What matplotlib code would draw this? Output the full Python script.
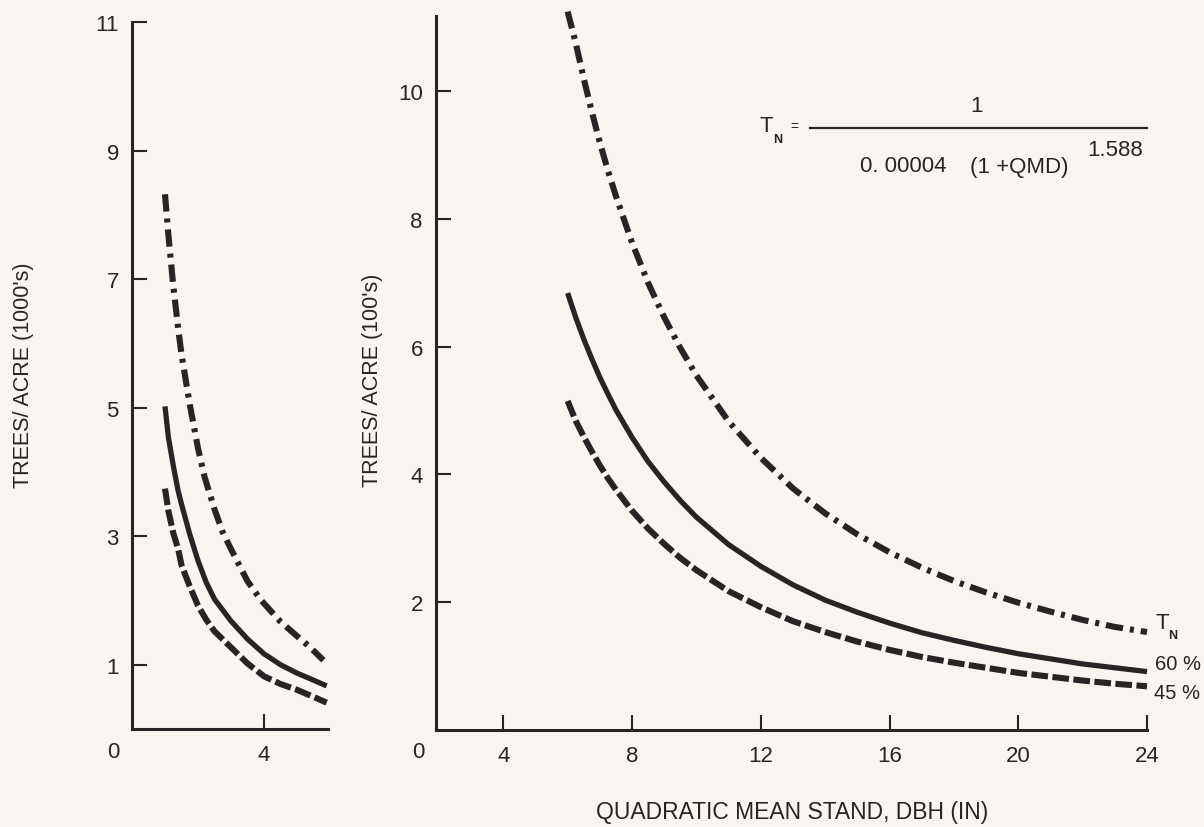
import matplotlib
matplotlib.use("Agg")
import matplotlib.pyplot as plt
from matplotlib import font_manager as fm
from matplotlib.lines import Line2D

# ---------------- data ----------------
# Left panel: trees/acre in 1000's, QMD 0-6 in
left_x_tn = [1.0, 1.1, 1.25, 1.4, 1.5, 1.75, 2.0, 2.2, 2.5, 2.75, 3.0, 3.5, 3.9, 4.5, 4.9, 5.4, 5.8]
left_tn = [8.32, 7.70, 6.90, 6.23, 5.83, 5.05, 4.37, 3.92, 3.42, 3.06, 2.80, 2.30, 2.01, 1.67, 1.49, 1.27, 1.07]
left_x_pct = [1.0, 1.1, 1.25, 1.4, 1.5, 1.75, 2.0, 2.25, 2.5, 3.0, 3.5, 4.0, 4.5, 5.0, 5.5, 5.9]
left_60 = [5.02, 4.55, 4.10, 3.70, 3.50, 3.03, 2.62, 2.28, 2.02, 1.68, 1.40, 1.17, 1.00, 0.87, 0.76, 0.67]
left_45 = [3.74, 3.40, 3.05, 2.80, 2.55, 2.22, 1.92, 1.70, 1.52, 1.27, 1.02, 0.82, 0.70, 0.61, 0.50, 0.41]

# Right panel: trees/acre in 100's, QMD 2-24 in
right_x = [6, 6.25, 6.5, 6.75, 7, 7.25, 7.5, 8, 8.5, 9, 9.5, 10, 11, 12, 13, 14,
           15, 16, 17, 18, 19, 20, 21, 22, 23, 24]
right_tn = [11.25, 10.76, 10.20, 9.68, 9.20, 8.76, 8.36, 7.63, 7.00, 6.46, 5.98, 5.55, 4.83, 4.26, 3.78, 3.39,
            3.06, 2.78, 2.54, 2.33, 2.15, 1.99, 1.85, 1.72, 1.61, 1.53]
right_60 = [6.84, 6.46, 6.12, 5.81, 5.52, 5.26, 5.01, 4.58, 4.20, 3.88, 3.59, 3.33, 2.90, 2.56, 2.27, 2.03,
            1.84, 1.67, 1.52, 1.40, 1.29, 1.19, 1.11, 1.03, 0.97, 0.91]
right_45 = [5.15, 4.84, 4.59, 4.36, 4.14, 3.94, 3.76, 3.43, 3.15, 2.91, 2.69, 2.50, 2.17, 1.92, 1.70, 1.53,
            1.38, 1.25, 1.14, 1.05, 0.97, 0.89, 0.83, 0.77, 0.72, 0.68]

left_yticks = [1, 3, 5, 7, 9, 11]
left_xticks = [4]
right_yticks = [2, 4, 6, 8, 10]
right_xticks = [4, 8, 12, 16, 20, 24]

curve_labels = ["60 %", "45 %"]
x_label = "QUADRATIC MEAN STAND, DBH (IN)"
left_ylabel = "TREES/ ACRE (1000's)"
right_ylabel = "TREES/ ACRE (100's)"

# ---------------- style ----------------
names = {f.name for f in fm.fontManager.ttflist}
FONT = next((n for n in ["Liberation Sans", "Arial", "Roboto"] if n in names), "DejaVu Sans")
plt.rcParams["font.family"] = [FONT, "DejaVu Sans"]
plt.rcParams["lines.scale_dashes"] = False

INK = "#2a2326"
BG = "#f9f4f0"
W, H = 1204, 828

fig = plt.figure(figsize=(W / 100, H / 100), dpi=100, facecolor=BG)


def fx(x):
    return x / W


def fy(y):
    return 1 - y / H


def rect(x0, x1, ytop, ybot):
    return [fx(x0), fy(ybot), fx(x1) - fx(x0), fy(ytop) - fy(ybot)]


axL = fig.add_axes(rect(132, 328, 23, 730))
axR = fig.add_axes(rect(436, 1147, 17, 730.7))

DASH = (0, (12, 3.2))
DASHDOT = (0, (12.5, 5, 2.9, 5))

for ax in (axL, axR):
    ax.set_facecolor(BG)
    for s in ("top", "right"):
        ax.spines[s].set_visible(False)
    for s in ("left", "bottom"):
        ax.spines[s].set_linewidth(2.2)
        ax.spines[s].set_color(INK)
    ax.tick_params(direction="in", length=11, width=1.5, colors=INK, labelsize=16)
    ax.tick_params(axis="x", pad=11)
    ax.tick_params(axis="y", pad=9.5)

axL.plot(left_x_tn, left_tn, color=INK, lw=4.4, linestyle=DASHDOT, dash_capstyle="butt", clip_on=False)
axL.plot(left_x_pct, left_60, color=INK, lw=3.8, solid_capstyle="butt", solid_joinstyle="round", clip_on=False)
axL.plot(left_x_pct, left_45, color=INK, lw=4.4, linestyle=DASH, dash_capstyle="butt", clip_on=False)
axL.set_xlim(0, 5.94)
axL.set_ylim(0, 11)
axL.set_xticks(left_xticks)
axL.set_yticks(left_yticks)

axR.plot(right_x, right_tn, color=INK, lw=4.4, linestyle=DASHDOT, dash_capstyle="butt", clip_on=False)
axR.plot(right_x, right_60, color=INK, lw=3.8, solid_capstyle="butt", solid_joinstyle="round", clip_on=False)
axR.plot(right_x, right_45, color=INK, lw=4.4, linestyle=DASH, dash_capstyle="butt", clip_on=False)
axR.set_xlim(1.91, 24)
axR.set_ylim(0, 11.18)
axR.set_xticks(right_xticks)
axR.set_yticks(right_yticks)

# origin "0" labels
fig.text(fx(113), fy(753), "0", ha="center", va="center", fontsize=16, color=INK)
fig.text(fx(418), fy(753), "0", ha="center", va="center", fontsize=16, color=INK)

# axis labels
fig.text(fx(24), fy(375), left_ylabel, rotation=90, ha="center", va="center", fontsize=15.5, color=INK)
fig.text(fx(372), fy(380), right_ylabel, rotation=90, ha="center", va="center", fontsize=15.5, color=INK)
fig.text(fx(792), fy(813), x_label, ha="center", va="center", fontsize=16.5, color=INK)

# curve end labels
fig.text(fx(1162), fy(624), "T", ha="center", va="center", fontsize=16, color=INK)
fig.text(fx(1173), fy(636), "N", ha="center", va="center", fontsize=9, fontweight="bold", color=INK)
fig.text(fx(1155), fy(665), curve_labels[0], ha="left", va="center", fontsize=14.5, color=INK)
fig.text(fx(1154), fy(694), curve_labels[1], ha="left", va="center", fontsize=14.5, color=INK)

# formula
fig.text(fx(766), fy(127), "T", ha="center", va="center", fontsize=16, color=INK)
fig.text(fx(778), fy(140), "N", ha="center", va="center", fontsize=9, fontweight="bold", color=INK)
fig.text(fx(794), fy(127), "=", ha="center", va="center", fontsize=10, color=INK)
fig.add_artist(Line2D([fx(810), fx(1147)], [fy(128.5), fy(128.5)], lw=1.6, color=INK))
fig.text(fx(977), fy(106), "1", ha="center", va="center", fontsize=16, color=INK)
fig.text(fx(860), fy(167), "0. 00004", ha="left", va="center", fontsize=16, color=INK)
fig.text(fx(970), fy(167), "(1 +QMD)", ha="left", va="center", fontsize=16, color=INK)
fig.text(fx(1087), fy(150), "1.588", ha="left", va="center", fontsize=16, color=INK)

fig.savefig("out.png", dpi=100, facecolor=BG)
